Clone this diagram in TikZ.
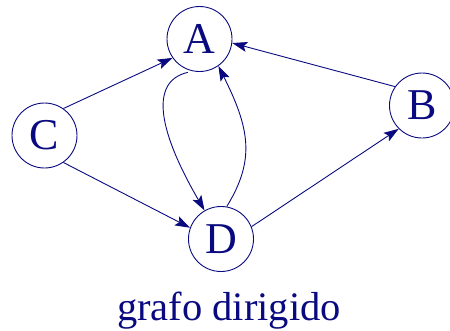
\documentclass[tikz,border=0pt]{standalone}
\usepackage{fontspec}
\setmainfont{Liberation Serif}
\usetikzlibrary{arrows.meta}
\definecolor{navy}{RGB}{10,10,128}
\begin{document}
\begin{tikzpicture}[x=1pt,y=-1pt,
  vert/.style={circle,draw=navy,line width=0.9pt,minimum size=65pt,inner sep=0pt,text=navy,font=\fontsize{44}{44}\selectfont},
  edge/.style={draw=navy,line width=0.9pt,-{Stealth[length=15pt,width=10pt,inset=3pt]}}]
\useasboundingbox (0,0) rectangle (450,330);
\node[vert] (A) at (199.5,39) {A};
\node[vert] (C) at (44.5,135.5) {C};
\node[vert] (D) at (221,239) {D};
\node[vert] (B) at (422,105.5) {B};
\draw[edge] (C.55) -- (A.215);
\draw[edge] (C.-55) -- (D.160);
\draw[edge] (D.22) -- (B.225);
\draw[edge] (B.145) -- (A.-7);
\draw[edge,shorten <=5pt] (A.258) .. controls +(-43,10) and +(-47,-81) .. (D.120);
\draw[edge] (D.80) .. controls +(29,-47) and +(31,62) .. (A.-55);
\node[text=navy,font=\fontsize{40.5}{40.5}\selectfont,anchor=base] (t) at (229,320) {grafo dirigido};
\end{tikzpicture}
\end{document}
